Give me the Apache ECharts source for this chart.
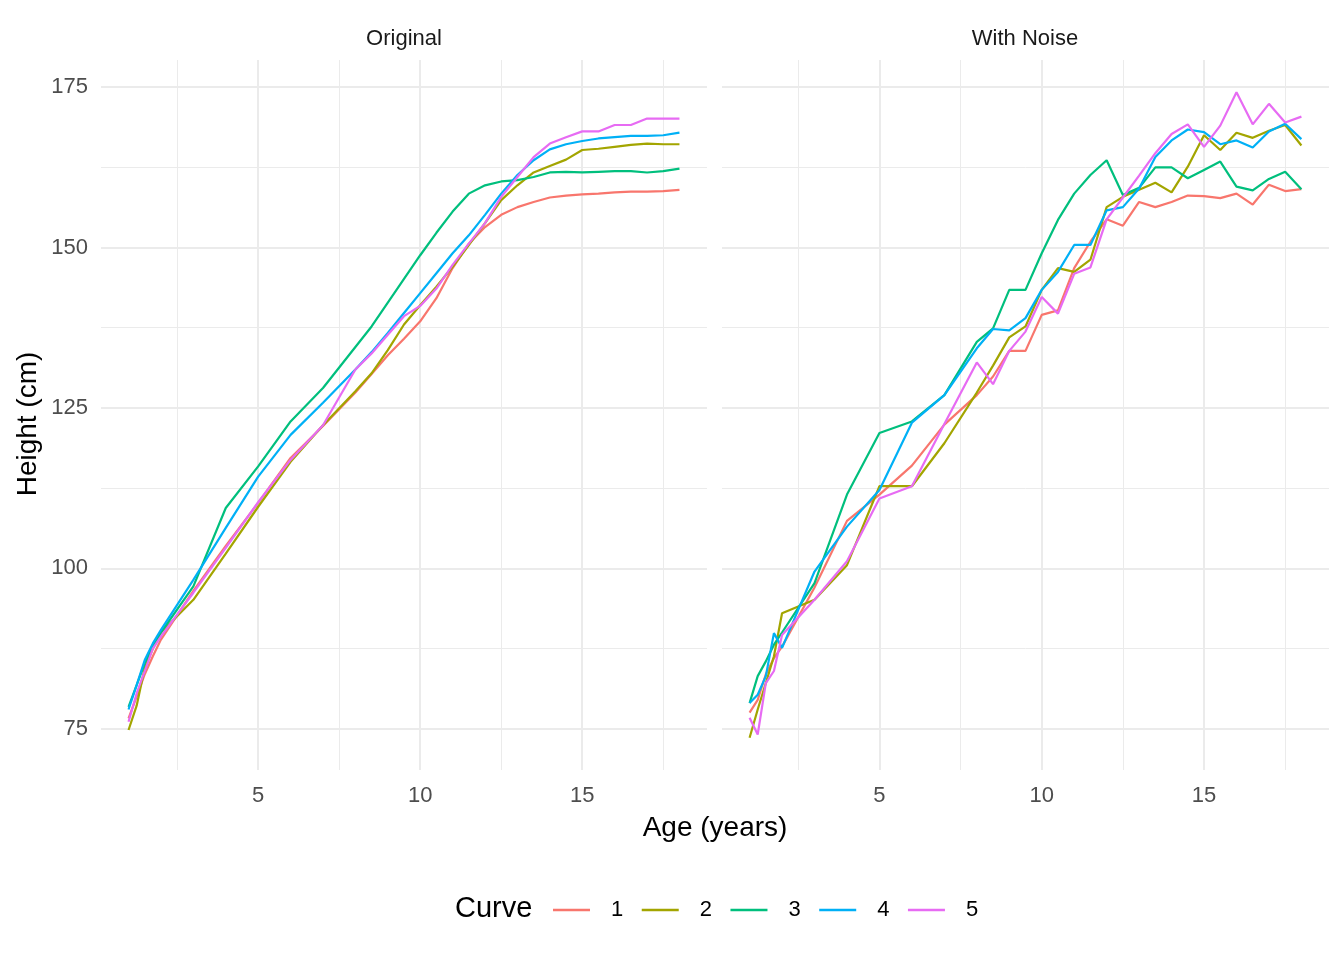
<!DOCTYPE html>
<html>
<head>
<meta charset="utf-8">
<script src="https://cdn.jsdelivr.net/npm/echarts@6/dist/echarts.min.js"></script>
<style>
html,body{margin:0;padding:0;background:#fff;}
#chart{width:1344px;height:960px;}
</style>
</head>
<body>
<div id="chart"></div>
<script>
// ---- data ----
var ages = [1,1.25,1.5,1.75,2,3,4,5,6,7,8,8.5,9,9.5,10,10.5,11,11.5,12,12.5,13,13.5,14,14.5,15,15.5,16,16.5,17,17.5,18];
var curveNames = ['1','2','3','4','5'];
var panelNames = ['Original','With Noise'];

var orig1 = [76.6,80.0,83.5,86.3,88.9,96.5,103.5,110.2,117.2,122.2,127.4,130.3,133.2,135.8,138.5,142.1,146.8,150.6,153.2,155.1,156.3,157.1,157.8,158.1,158.3,158.4,158.6,158.7,158.7,158.8,159.0];
var orig2 = [74.8,78.6,84.5,87.5,90.0,95.1,102.3,109.6,116.6,122.3,127.6,130.4,134.0,138.0,141.0,143.9,147.0,150.4,153.8,157.4,159.7,161.7,162.7,163.7,165.2,165.4,165.7,166.0,166.2,166.1,166.1];
var orig3 = [78.4,81.8,85.2,87.8,90.0,97.2,109.4,115.9,122.9,128.1,134.5,137.7,141.4,145.1,148.8,152.3,155.6,158.4,159.7,160.3,160.5,161.0,161.7,161.8,161.7,161.8,161.9,161.9,161.7,161.9,162.3];
var orig4 = [78.0,81.8,85.7,88.3,90.4,98.2,106.3,114.3,120.8,125.8,131.0,133.7,136.7,139.8,142.9,146.0,149.1,151.9,155.1,158.4,161.3,163.6,165.3,166.1,166.6,167.0,167.2,167.4,167.4,167.5,167.9];
var orig5 = [76.1,80.5,84.0,87.5,89.4,96.2,103.2,110.3,116.9,122.3,131.0,133.5,136.4,139.3,140.9,143.6,147.3,150.6,153.8,157.9,161.0,164.1,166.2,167.2,168.1,168.1,169.1,169.1,170.1,170.1,170.1];

var noise1 = [77.5,79.5,83.5,86.0,87.8,97.0,107.4,111.5,116.0,122.4,127.0,129.9,133.9,133.9,139.5,140.2,146.8,150.9,154.4,153.4,157.1,156.3,157.1,158.1,158.0,157.7,158.4,156.7,159.8,158.8,159.1];
var noise2 = [73.6,78.0,82.1,86.3,93.0,95.1,100.5,112.8,112.8,119.5,127.4,131.6,136.0,137.7,143.4,146.8,146.2,148.1,156.3,157.9,159.0,160.1,158.6,162.6,167.5,165.2,167.9,167.1,168.2,169.1,165.9];
var noise3 = [79.0,83.2,85.5,88.1,90.0,97.7,111.5,121.1,122.9,127.0,135.3,137.4,143.4,143.4,149.1,154.3,158.4,161.3,163.6,158.2,159.3,162.5,162.5,160.8,162.1,163.4,159.5,158.9,160.7,161.8,159.1];
var noise4 = [79.0,80.3,83.2,89.9,87.6,99.5,106.5,112.2,122.7,127.0,134.3,137.3,137.1,139.0,143.4,146.2,150.4,150.4,155.8,156.3,159.2,164.1,166.7,168.4,168.0,166.1,166.7,165.6,168.1,169.3,166.9];
var noise5 = [76.7,74.1,82.1,84.0,89.6,95.1,101.1,110.9,112.8,122.5,132.1,128.7,133.9,136.9,142.3,139.7,145.9,146.9,154.4,157.8,161.2,164.7,167.7,169.2,165.7,169.0,174.2,169.2,172.4,169.5,170.4];

var xMajor = [5,10,15];
var xMinor = [2.5,7.5,12.5,17.5];
var yMajor = [75,100,125,150,175];
var yMinor = [87.5,112.5,137.5,162.5];

// ---- styling ----
var colors = ['#F8766D','#A3A500','#00BF7D','#00B0F6','#E76BF3'];
var FONT = 'Liberation Sans, Arial, Helvetica, sans-serif';
var XMIN = 0.15, XMAX = 18.85, YMIN = 68.57, YMAX = 179.23;

var origSets = [orig1,orig2,orig3,orig4,orig5];
var noiseSets = [noise1,noise2,noise3,noise4,noise5];

function pairs(vals){ return ages.map(function(a,i){ return [a, vals[i]]; }); }

function gridLines(){
  var d = [];
  xMinor.forEach(function(v){ d.push({xAxis:v, lineStyle:{color:'#EBEBEB', width:1, type:'solid'}}); });
  yMinor.forEach(function(v){ d.push({yAxis:v, lineStyle:{color:'#EBEBEB', width:1, type:'solid'}}); });
  xMajor.forEach(function(v){ d.push({xAxis:v, lineStyle:{color:'#EBEBEB', width:2, type:'solid'}}); });
  yMajor.forEach(function(v){ d.push({yAxis:v, lineStyle:{color:'#EBEBEB', width:2, type:'solid'}}); });
  return d;
}

var series = [];
[0,1].forEach(function(p){
  series.push({
    type:'line', xAxisIndex:p, yAxisIndex:p, data:[], silent:true, z:1,
    markLine:{silent:true, symbol:['none','none'], label:{show:false}, z:1, animation:false, emphasis:{disabled:true}, data:gridLines()}
  });
});
[0,1].forEach(function(p){
  var sets = p === 0 ? origSets : noiseSets;
  sets.forEach(function(vals, k){
    series.push({
      name: curveNames[k], type:'line', xAxisIndex:p, yAxisIndex:p,
      data: pairs(vals), showSymbol:false, symbol:'none', z:3,
      lineStyle:{color:colors[k], width:2.2}, itemStyle:{color:colors[k]},
      emphasis:{disabled:true}
    });
  });
});

function xAxis(i){
  return {type:'value', gridIndex:i, min:XMIN, max:XMAX,
    axisLine:{show:false}, axisTick:{show:false, customValues:xMajor}, splitLine:{show:false},
    axisLabel:{customValues:xMajor, fontSize:22, color:'#4D4D4D', fontFamily:FONT, margin:15}};
}
function yAxis(i){
  return {type:'value', gridIndex:i, min:YMIN, max:YMAX,
    axisLine:{show:false}, axisTick:{show:false, customValues:yMajor}, splitLine:{show:false},
    axisLabel:{show:i===0, customValues:yMajor, fontSize:22, color:'#4D4D4D', fontFamily:FONT, margin:13}};
}

var chart = echarts.init(document.getElementById('chart'), null, {renderer:'canvas'});
chart.setOption({
  backgroundColor:'#ffffff',
  animation:false,
  color: colors,
  title:[
    {text:panelNames[0], left:404, top:28, textAlign:'center', padding:0, textStyle:{fontSize:22, fontWeight:'normal', color:'#1A1A1A', fontFamily:FONT}},
    {text:panelNames[1], left:1025, top:28, textAlign:'center', padding:0, textStyle:{fontSize:22, fontWeight:'normal', color:'#1A1A1A', fontFamily:FONT}},
    {text:'Age (years)', left:715, top:814, textAlign:'center', padding:0, textStyle:{fontSize:28, fontWeight:'normal', color:'#000000', fontFamily:FONT}}
  ],
  grid:[
    {left:101, top:60, width:606, height:710},
    {left:722, top:60, width:607, height:710}
  ],
  xAxis:[xAxis(0), xAxis(1)],
  yAxis:[yAxis(0), yAxis(1)],
  legend:{
    data: curveNames, left:553, top:899, padding:0, orient:'horizontal',
    icon:'rect', itemWidth:37, itemHeight:2.5, itemGap:18.5,
    textStyle:{fontSize:22, color:'#000000', fontFamily:FONT, padding:[0,0,0,16]},
    selectedMode:false
  },
  graphic:[
    {type:'text', x:28, y:424, rotation:Math.PI/2, style:{text:'Height (cm)', fontSize:28, fontFamily:FONT, fill:'#000000', align:'center', verticalAlign:'middle'}},
    {type:'text', x:455, y:909, style:{text:'Curve', fontSize:29, fontFamily:FONT, fill:'#000000', align:'left', verticalAlign:'middle'}}
  ],
  series: series
});
</script>
</body>
</html>
